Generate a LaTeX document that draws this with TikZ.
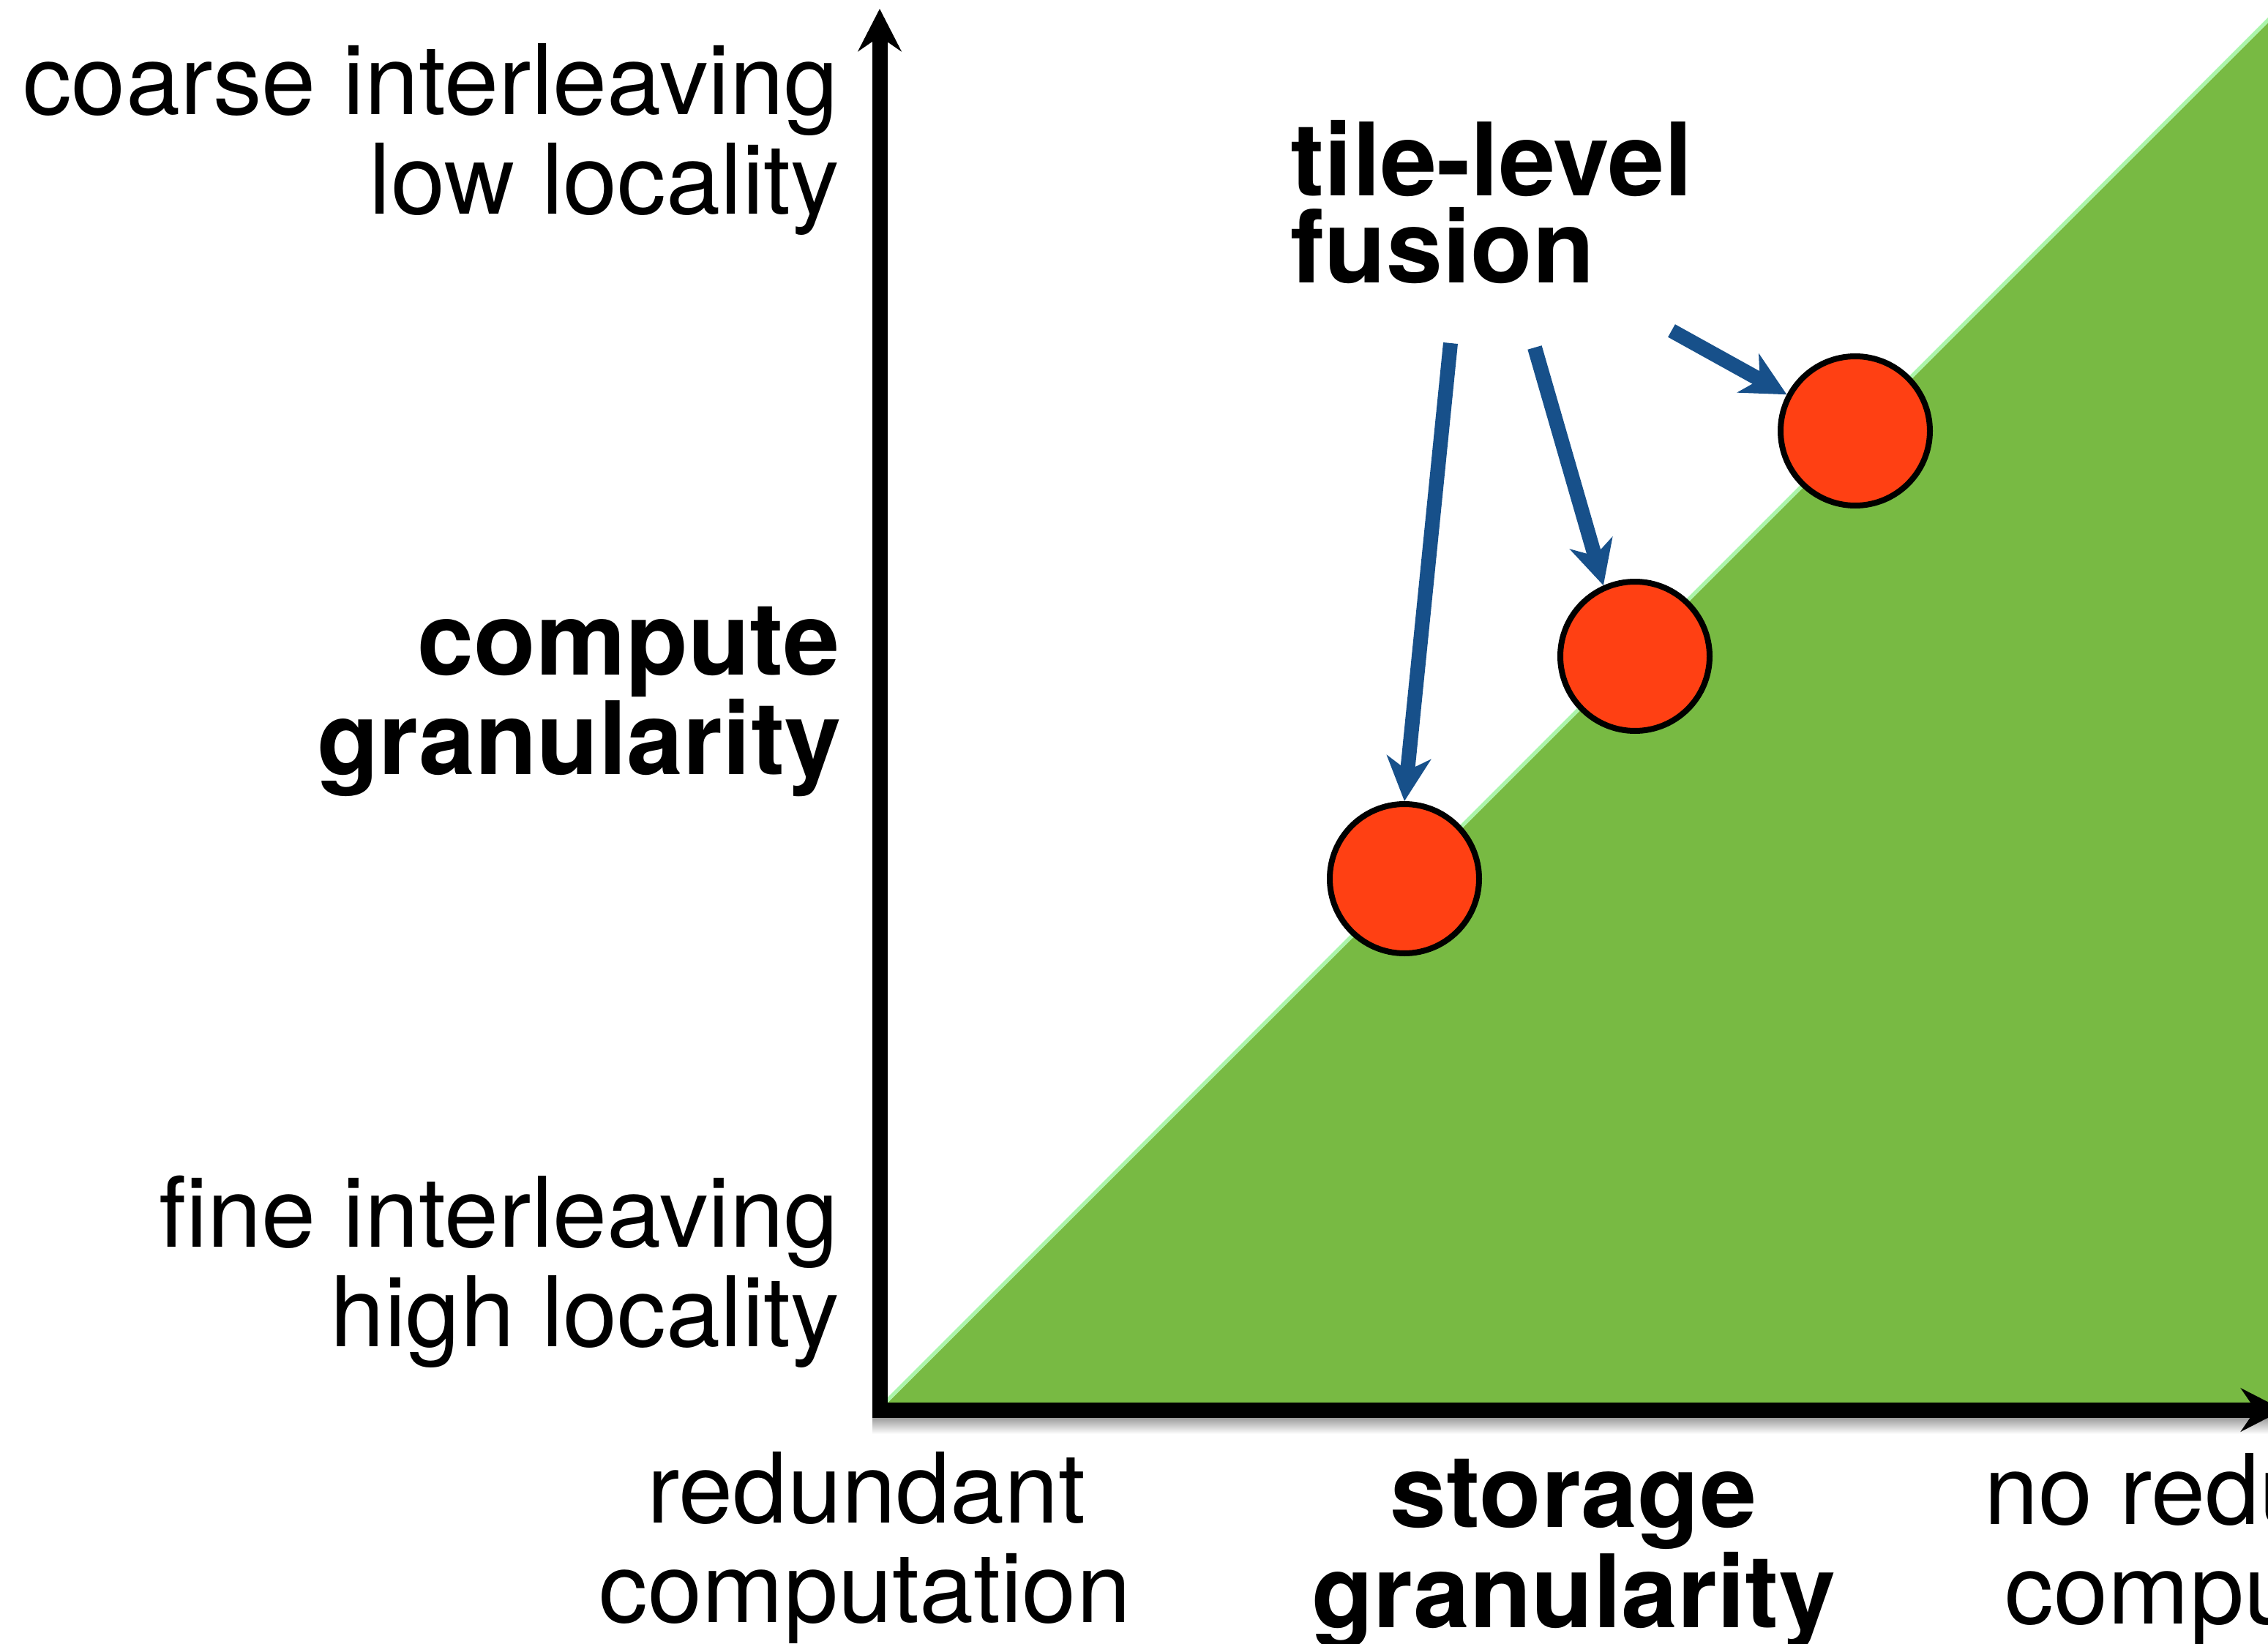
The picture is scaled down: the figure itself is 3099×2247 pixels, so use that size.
\documentclass[tikz,border=0pt]{standalone}
\usepackage{fontspec}
\setmainfont{TeX Gyre Heros}
\usetikzlibrary{arrows.meta}
\definecolor{fillgreen}{HTML}{78BA43}
\definecolor{edgegreen}{HTML}{AAF5AA}
\definecolor{dotred}{HTML}{FF4013}
\definecolor{arrowblue}{HTML}{17508A}
\begin{document}
\begin{tikzpicture}[x=0.25pt,y=-0.25pt,
  lbl/.style={inner sep=0pt, font=\fontsize{33.3pt}{33.3pt}\selectfont},
  blbl/.style={inner sep=0pt, font=\fontsize{34.6pt}{34.6pt}\selectfont\bfseries},
  axis/.style={line width=5.25pt, line join=miter, {Stealth[length=14.5pt,width=14.75pt,inset=5pt]}-{Stealth[length=14.5pt,width=14.75pt,inset=5pt]}},
  pointer/.style={draw=arrowblue, line width=5pt, -{Stealth[length=15pt,width=15pt,inset=4.5pt]}},
  dot/.style={circle, draw=black, fill=dotred, line width=2pt, minimum size=51pt, inner sep=0pt}]
\useasboundingbox (0,0) rectangle (3099,2247);
\clip (0,0) rectangle (3099,2247);
% green region
\coordinate (g0) at (1213,1917);
\coordinate (g1) at (3160,-30);
\coordinate (g2) at (3160,1927);
\fill[fillgreen] (1213,1927) -- (g0) -- (g1) -- (g2) -- cycle;
\draw[edgegreen, line width=1.25pt] ([shift={(-1.8,-1.8)}]g0) -- ([shift={(-1.8,-1.8)}]g1);
% shadow under x axis
\shade[top color=black!40, bottom color=white] (1192,1937) rectangle (3099,1960);
% axes
\coordinate (ytip) at (1202,12);
\coordinate (org) at (1202,1927);
\coordinate (xtip) at (3120,1927);
\draw[axis] (ytip) -- (org) -- (xtip);
% circles
\node[dot] (c1) at (1919,1201) {};
\node[dot] (c2) at (2234,897) {};
\node[dot] (c3) at (2535,589) {};
% arrows
\coordinate (s1) at (1982,469);
\coordinate (s2) at (2097,475);
\coordinate (s3) at (2284,452);
\draw[pointer] (s1) -- (c1.north);
\draw[pointer] (s2) -- (c2.114);
\draw[pointer] (s3) -- (c3.152);
% labels
\node[lbl, anchor=base east] (yl1) at (1146,157) {coarse interleaving};
\node[lbl, anchor=base east] (yl2) at (1148,293) {low locality};
\node[blbl, anchor=base east] (yc1) at (1148,922) {compute};
\node[blbl, anchor=base east] (yc2) at (1150,1058) {granularity};
\node[lbl, anchor=base east] (yf1) at (1146,1704) {fine interleaving};
\node[lbl, anchor=base east] (yf2) at (1148,1840) {high locality};
\node[lbl, anchor=base] (xr1) at (1184,2081) {redundant};
\node[lbl, anchor=base] (xr2) at (1182,2217) {computation};
\node[blbl, anchor=base] (xs1) at (2150,2087) {storage};
\node[blbl, anchor=base] (xs2) at (2150,2224) {granularity};
\node[lbl, anchor=base] (xn1) at (3103,2083) {no redundant};
\node[lbl, anchor=base] (xn2) at (3103,2219) {computation};
\node[blbl, anchor=base west] (tf1) at (1763,268) {tile-level};
\node[blbl, anchor=base west] (tf2) at (1763,387) {fusion};
\end{tikzpicture}
\end{document}
